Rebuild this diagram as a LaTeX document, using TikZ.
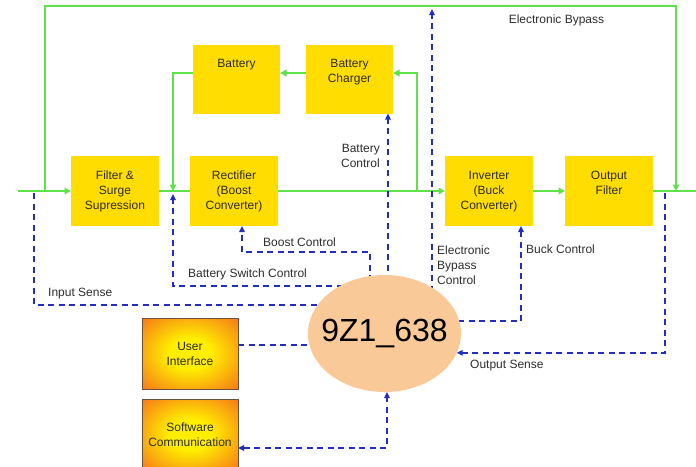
\documentclass[tikz,border=0pt]{standalone}
\usepackage{fontspec}
\setmainfont{Liberation Sans}
\usetikzlibrary{arrows.meta,shapes.geometric,backgrounds}
\definecolor{powergreen}{RGB}{95,225,75}
\definecolor{senseblue}{RGB}{35,45,190}
\definecolor{unitfill}{RGB}{255,221,0}
\definecolor{ctrlfill}{RGB}{250,201,152}
\definecolor{uiinner}{RGB}{255,238,0}
\definecolor{uiouter}{RGB}{245,118,24}
\definecolor{uiedge}{RGB}{110,80,60}
\definecolor{labelgrey}{RGB}{45,45,45}
\newcommand{\diagfont}{\fontsize{12}{15}\selectfont}
\pgfdeclareradialshading{uiglow}{\pgfpoint{0bp}{0bp}}{color(0bp)=(uiinner); color(11bp)=(uiinner); color(36bp)=(uiouter); color(50bp)=(uiouter)}
\begin{document}
\begin{tikzpicture}[x=1pt,y=-1pt,
  power/.style={draw=powergreen, line width=1.8pt},
  powertip/.style={-{Triangle[length=6.5pt,width=6.5pt]}},
  sense/.style={draw=senseblue, line width=1.4pt, dash pattern=on 6pt off 4.5pt},
  sensetip/.style={-{Triangle[length=6pt,width=5.5pt]}},
  unit/.style={fill=unitfill, minimum width=88pt, minimum height=70pt, inner sep=0pt, outer sep=0pt},
  unittext/.style={anchor=north, yshift=-15pt, align=center, font=\diagfont, text=labelgrey, inner sep=0pt},
  uibox/.style={draw=uiedge, line width=0.6pt, shading=uiglow, minimum width=96pt, minimum height=71pt, align=center, font=\diagfont, text=labelgrey, inner sep=0pt, outer sep=0pt},
  ctrlnode/.style={ellipse, fill=ctrlfill, minimum width=153pt, minimum height=117pt, inner xsep=-14pt, inner ysep=0pt, outer sep=0pt, font=\fontsize{32}{36}\selectfont},
  sig/.style={font=\diagfont, text=labelgrey, inner sep=0pt}]
\useasboundingbox (0,0) rectangle (696,466);
\clip (0,0) rectangle (696,466);
% power path units
\node[unit, label={[unittext]north:{Filter \&\\Surge\\Supression}}] (filter) at (115,191) {};
\node[unit, label={[unittext]north:{Rectifier\\(Boost\\Converter)}}] (rect) at (234,191) {};
\node[unit, minimum width=87pt, minimum height=69pt, label={[unittext]north:{Battery}}] (batt) at (236.5,79) {};
\node[unit, minimum width=87pt, minimum height=69pt, label={[unittext]north:{Battery\\Charger}}] (charger) at (349.5,79) {};
\node[unit, label={[unittext]north:{Inverter\\(Buck\\Converter)}}] (inverter) at (489,191) {};
\node[unit, label={[unittext]north:{Output\\Filter}}] (outfilt) at (609,191) {};
% user side
\node[uibox] (ui) at (190,353.5) {User\\Interface};
\node[uibox] (sw) at (190,434.5) {Software\\Communication};
% controller
\node[ctrlnode] (ctrl) at (384.5,333.5) {9Z1\_638};
% free ends and bends
\coordinate (inl) at (18,191);
\coordinate (outr) at (696,191);
\coordinate (byl) at (45,191);
\coordinate (byr) at (676,191);
\coordinate (topl) at (45,6);
\coordinate (topr) at (676,6);
\coordinate (chg) at (417,191);
\coordinate (bat) at (173,191);
\coordinate (isen) at (34,193);
\coordinate (bsw) at (173,194);
\coordinate (bstc) at (242,252);
\coordinate (ebp) at (432,9);
\coordinate (bck) at (521,321);
\coordinate (osen) at (665,193);
\begin{scope}[on background layer]
% green power lines
\draw[power, powertip] (inl) -- (filter.west);
\draw[power] (filter.east) -- (rect.west);
\draw[power, powertip] (rect.east) -- (inverter.west);
\draw[power, powertip] (inverter.east) -- (outfilt.west);
\draw[power] (outfilt.east) -- (outr);
\draw[power, powertip] (byl) -- (topl) -- (topr) -- (byr);
\draw[power, powertip] (chg) |- ([yshift=6pt]charger.east);
\draw[power, powertip] ([yshift=6pt]charger.west) -- ([yshift=6pt]batt.east);
\draw[power, powertip] ([yshift=6pt]batt.west) -| (bat);
% blue control and sense lines
\draw[sense] (isen) |- ([yshift=28.5pt]ctrl.center);
\draw[sense, sensetip] ([yshift=47.5pt]ctrl.center) -| (bsw);
\draw[sense, sensetip] ([xshift=-14.5pt]ctrl.center) |- (bstc) -- (bstc |- rect.south);
\draw[sense, sensetip] ([xshift=3.5pt]ctrl.center) -- ([xshift=3.5pt]ctrl.center |- charger.south);
\draw[sense, sensetip] (ctrl.center -| ebp) -- (ebp);
\draw[sense, sensetip] (ctrl.center |- bck) -- (bck) -- (bck |- inverter.south);
\draw[sense, sensetip] (osen) |- (ctrl.-15);
\draw[sense] ([yshift=8.5pt]ui.east) -- ([yshift=-11.5pt]ctrl.center);
\draw[sense, {Triangle[length=6pt,width=5.5pt]}-{Triangle[length=6pt,width=5.5pt]}] ([yshift=-13.5pt]sw.east) -| ([xshift=2.5pt]ctrl.south);
\end{scope}
% signal labels
\node[sig] (lbyp) at (556.5,20) {Electronic Bypass};
\node[sig, anchor=east, align=right] (lbatc) at (380,156) {Battery\\Control};
\node[sig, anchor=west] (lbst) at (263,242) {Boost Control};
\node[sig, anchor=west] (lbsw) at (188,274) {Battery Switch Control};
\node[sig, anchor=west] (linp) at (48,294) {Input Sense};
\node[sig, anchor=west, align=left] (lebc) at (437,265) {Electronic\\Bypass\\Control};
\node[sig, anchor=west] (lbck) at (526,249) {Buck Control};
\node[sig, anchor=west] (lout) at (470,366) {Output Sense};
\end{tikzpicture}
\end{document}
